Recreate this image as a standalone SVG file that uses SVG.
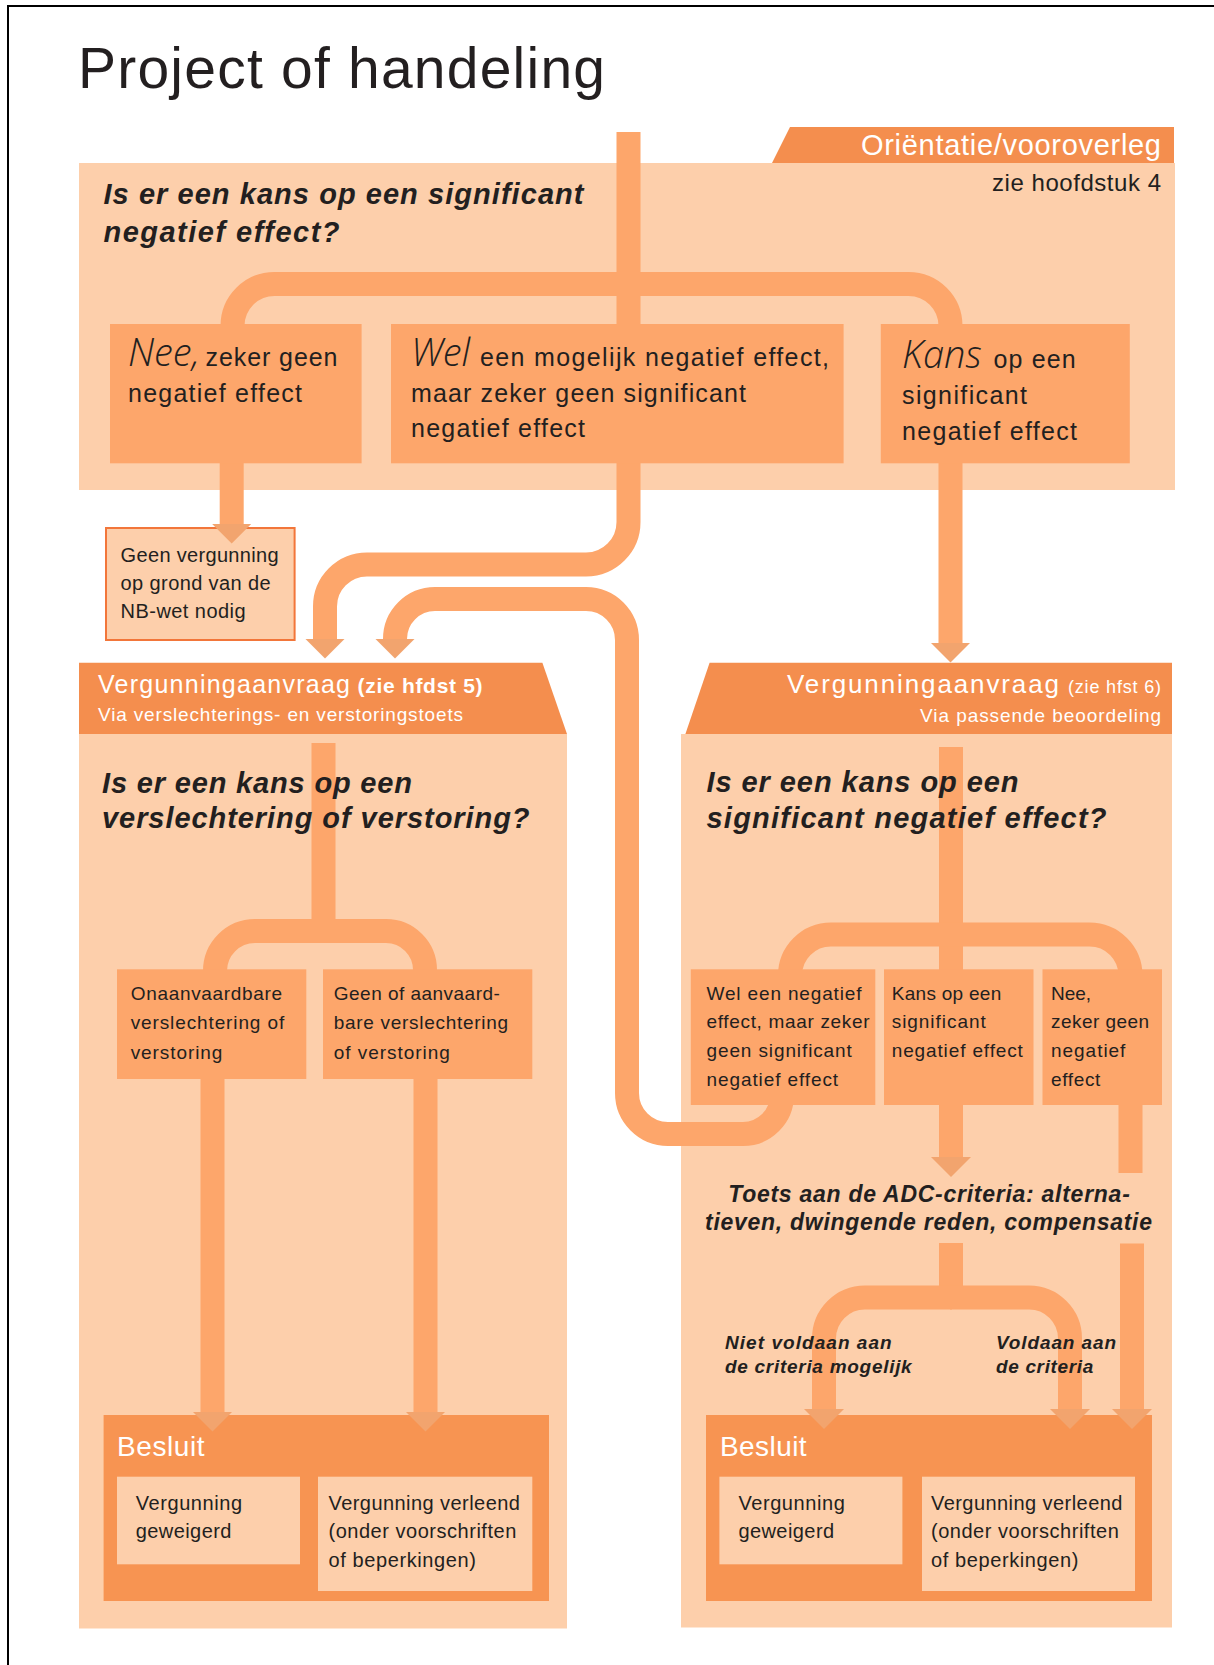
<svg xmlns="http://www.w3.org/2000/svg" width="1214" height="1665" viewBox="0 0 1214 1665">
<defs>
<style>
text{font-family:"Liberation Sans",Arial,sans-serif;fill:#231f20}
.panel{fill:#fdcfab}
.hdr{fill:#f48e4e}
.box{fill:#fda66b}
.bes{fill:#f79452}
.inner{fill:#fdcfab}
.conn{fill:none;stroke:#fda66b;stroke-width:24}
.q{font-weight:bold;font-style:italic;font-size:29px}
.lbl{font-weight:bold;font-style:italic;font-size:19px}
.w{fill:#fff}
.big{font-family:"Open Sans","Liberation Sans",sans-serif;font-weight:300;font-style:italic;font-size:38px}
.t25{font-size:25px}
.t19{font-size:19px}
.t20{font-size:20px}
</style>
<marker id="ah" viewBox="0 0 20 40" refX="0.5" refY="20" markerWidth="20" markerHeight="40" markerUnits="userSpaceOnUse" orient="auto"><path d="M0,0 L20,20 L0,40 Z" fill="#f2a46e"/></marker>
</defs>
<rect width="1214" height="1665" fill="#fff"/>
<path d="M8 1665 V6 H1214" fill="none" stroke="#000" stroke-width="2"/>
<g id="title"><text x="78" y="88" font-size="57" textLength="527">Project of handeling</text></g>

<!-- background panels -->
<g id="panel-orientatie">
<rect class="panel" x="79" y="163" width="1096" height="327"/>
<polygon class="hdr" points="772,163 790,127 1174,127 1174,163"/>
<text class="w" x="1161" y="155" font-size="29" text-anchor="end" textLength="300">Oriëntatie/vooroverleg</text>
<text x="1161" y="191" font-size="24" text-anchor="end" textLength="169">zie hoofdstuk 4</text>
</g>
<g id="node-geen-vergunning">
<rect x="106" y="528" width="188.6" height="112" fill="#fdcfab" stroke="#f2763a" stroke-width="2"/>
<text class="t20" x="120.6" y="561.7" textLength="158">Geen vergunning</text>
<text class="t20" x="120.6" y="590" textLength="150">op grond van de</text>
<text class="t20" x="120.6" y="617.7" textLength="125">NB-wet nodig</text>
</g>
<g id="panel-verslechteringstoets">
<rect class="panel" x="79" y="734" width="488" height="894.5"/>
<polygon class="hdr" points="79,662.7 542.4,662.7 567,734 79,734"/>
<text class="w" x="98" y="693.3" font-size="25" textLength="252">Vergunningaanvraag</text>
<text class="w" x="357.6" y="693.3" font-size="21" font-weight="bold" textLength="125">(zie hfdst 5)</text>
<text class="w" x="98" y="720.7" font-size="19" textLength="365">Via verslechterings- en verstoringstoets</text>
</g>
<g id="panel-passende-beoordeling">
<rect class="panel" x="681" y="734" width="491" height="893.5"/>
<polygon class="hdr" points="709.6,662.7 1172,662.7 1172,734 685.4,734"/>
<text class="w" x="787" y="693.3" font-size="26" textLength="272">Vergunningaanvraag</text>
<text class="w" x="1068" y="693.3" font-size="18" textLength="93">(zie hfst 6)</text>
<text class="w" x="920" y="721.7" font-size="19" textLength="241">Via passende beoordeling</text>
</g>
<g id="besluit-left">
<rect class="bes" x="103.6" y="1415" width="445.4" height="186"/>
<text class="w" x="117" y="1456" font-size="28" textLength="87.5">Besluit</text>
<rect class="inner" x="117" y="1476.7" width="183" height="87.6"/>
<text class="t20" x="135.7" y="1510" textLength="106.4">Vergunning</text>
<text class="t20" x="135.7" y="1538.3" textLength="95.7">geweigerd</text>
<rect class="inner" x="318" y="1476.7" width="214.3" height="114.3"/>
<text class="t20" x="328.5" y="1510" textLength="191.4">Vergunning verleend</text>
<text class="t20" x="328.5" y="1538.3" textLength="187.8">(onder voorschriften</text>
<text class="t20" x="328.5" y="1567.3" textLength="147.4">of beperkingen)</text>
</g>
<g id="besluit-right">
<rect class="bes" x="706" y="1415" width="446" height="186"/>
<text class="w" x="720" y="1456" font-size="28" textLength="86.6">Besluit</text>
<rect class="inner" x="719.4" y="1476.7" width="183" height="87.6"/>
<text class="t20" x="738.4" y="1510" textLength="106.4">Vergunning</text>
<text class="t20" x="738.4" y="1538.3" textLength="95.7">geweigerd</text>
<rect class="inner" x="922" y="1476.7" width="213" height="114.3"/>
<text class="t20" x="931" y="1510" textLength="191.4">Vergunning verleend</text>
<text class="t20" x="931" y="1538.3" textLength="187.8">(onder voorschriften</text>
<text class="t20" x="931" y="1567.3" textLength="147.4">of beperkingen)</text>
</g>

<!-- connectors -->
<g id="connectors">
<path class="conn" d="M628.5 132 V330"/>
<path class="conn" d="M232.5 330 V326 A42 42 0 0 1 274.5 284 H908.5 A42 42 0 0 1 950.5 326 V330"/>
<path class="conn" d="M231.7 463 V524" marker-end="url(#ah)"/>
<path class="conn" d="M628.5 463 V522 A42.5 42.5 0 0 1 586 564.5 H367 A42 42 0 0 0 325 606.5 V639" marker-end="url(#ah)"/>
<path class="conn" d="M782 1095 A39 39 0 0 1 743 1134 H668 A41 41 0 0 1 627 1093 V640 A41 41 0 0 0 586 599 H435 A40 40 0 0 0 395 639" marker-end="url(#ah)"/>
<path class="conn" d="M950.5 463 V643" marker-end="url(#ah)"/>
<path class="conn" d="M323.5 743 V931"/>
<path class="conn" d="M215 975 V971 A40 40 0 0 1 255 931 H386 A39 39 0 0 1 425 970 V975"/>
<path class="conn" d="M212.5 1079 V1412" marker-end="url(#ah)"/>
<path class="conn" d="M425.5 1079 V1412" marker-end="url(#ah)"/>
<path class="conn" d="M951 747 V975"/>
<path class="conn" d="M790 975.5 A41 41 0 0 1 831 934.5 H1089.5 A41 41 0 0 1 1130.5 975.5"/>
<path class="conn" d="M951 1105 V1157.5" marker-end="url(#ah)"/>
<path class="conn" d="M1130.5 1105 V1173"/>
<path class="conn" d="M1132 1243.5 V1409.5" marker-end="url(#ah)"/>
<path class="conn" d="M951 1243 V1297.5"/>
<path class="conn" d="M952 1297.5 H865 A41 41 0 0 0 824 1338.5 V1409.5" marker-end="url(#ah)"/>
<path class="conn" d="M950 1297.5 H1029 A41 41 0 0 1 1070 1338.5 V1409.5" marker-end="url(#ah)"/>
<text class="lbl" x="725" y="1349.3" textLength="166.7">Niet voldaan aan</text>
<text class="lbl" x="725" y="1372.7" textLength="186.7">de criteria mogelijk</text>
<text class="lbl" x="996" y="1349.3" textLength="120">Voldaan aan</text>
<text class="lbl" x="996" y="1372.7" textLength="97.3">de criteria</text>
</g>

<!-- decision boxes -->
<g id="node-nee">
<rect class="box" x="110" y="324" width="251.6" height="139.3"/>
<text class="big" x="128" y="366">Nee,</text>
<text class="t25" x="205.5" y="366" textLength="132">zeker geen</text>
<text class="t25" x="128" y="401.5" textLength="174">negatief effect</text>
</g>
<g id="node-wel">
<rect class="box" x="391" y="324" width="452.6" height="139.3"/>
<text class="big" x="411" y="366">Wel</text>
<text class="t25" x="480" y="366" textLength="349">een mogelijk negatief effect,</text>
<text class="t25" x="411" y="401.5" textLength="335">maar zeker geen significant</text>
<text class="t25" x="411" y="437" textLength="174">negatief effect</text>
</g>
<g id="node-kans">
<rect class="box" x="880.8" y="324" width="249" height="139.3"/>
<text class="big" x="902" y="368">Kans</text>
<text class="t25" x="993.6" y="368" textLength="82">op een</text>
<text class="t25" x="902" y="403.6" textLength="125">significant</text>
<text class="t25" x="902" y="439.7" textLength="175">negatief effect</text>
</g>
<g id="node-onaanvaardbaar">
<rect class="box" x="117" y="969.3" width="189.3" height="109.7"/>
<text class="t19" x="130.7" y="1000" textLength="151.4">Onaanvaardbare</text>
<text class="t19" x="130.7" y="1029.3" textLength="153.5">verslechtering of</text>
<text class="t19" x="130.7" y="1058.7" textLength="91.7">verstoring</text>
</g>
<g id="node-aanvaardbaar">
<rect class="box" x="323" y="969.3" width="209.3" height="109.7"/>
<text class="t19" x="333.8" y="1000" textLength="166">Geen of aanvaard-</text>
<text class="t19" x="333.8" y="1029.3" textLength="174.2">bare verslechtering</text>
<text class="t19" x="333.8" y="1058.7" textLength="116">of verstoring</text>
</g>
<g id="node-wel-negatief">
<rect class="box" x="690.8" y="969.3" width="184.5" height="135.7"/>
<text class="t19" x="706.5" y="1000" textLength="155">Wel een negatief</text>
<text class="t19" x="706.5" y="1028.3" textLength="163">effect, maar zeker</text>
<text class="t19" x="706.5" y="1057.3" textLength="145.3">geen significant</text>
<text class="t19" x="706.5" y="1086" textLength="131.6">negatief effect</text>
</g>
<g id="node-kans-significant">
<rect class="box" x="884" y="969.3" width="149.5" height="135.7"/>
<text class="t19" x="891.7" y="1000" textLength="109.6">Kans op een</text>
<text class="t19" x="891.7" y="1028.3" textLength="94">significant</text>
<text class="t19" x="891.7" y="1057.3" textLength="131.2">negatief effect</text>
</g>
<g id="node-nee-geen">
<rect class="box" x="1042.5" y="969.3" width="119.5" height="135.7"/>
<text class="t19" x="1051" y="1000" textLength="40">Nee,</text>
<text class="t19" x="1051" y="1028.3" textLength="98">zeker geen</text>
<text class="t19" x="1051" y="1057.3" textLength="74.4">negatief</text>
<text class="t19" x="1051" y="1086" textLength="49.3">effect</text>
</g>

<!-- questions -->
<g id="q-orientatie">
<text class="q" x="103.5" y="204" textLength="480">Is er een kans op een significant</text>
<text class="q" x="103.5" y="241.7" textLength="236">negatief effect?</text>
</g>
<g id="q-verslechtering">
<text class="q" x="102" y="793.3" textLength="310">Is er een kans op een</text>
<text class="q" x="102" y="828.3" textLength="427.5">verslechtering of verstoring?</text>
</g>
<g id="q-passende">
<text class="q" x="706.5" y="791.7" textLength="312">Is er een kans op een</text>
<text class="q" x="706.5" y="828.3" textLength="400">significant negatief effect?</text>
</g>
<g id="node-adc">
<text x="929" y="1201.7" font-size="23" font-weight="bold" font-style="italic" text-anchor="middle" textLength="401.6">Toets aan de ADC-criteria: alterna-</text>
<text x="928.5" y="1230" font-size="23" font-weight="bold" font-style="italic" text-anchor="middle" textLength="447">tieven, dwingende reden, compensatie</text>
</g>
</svg>
